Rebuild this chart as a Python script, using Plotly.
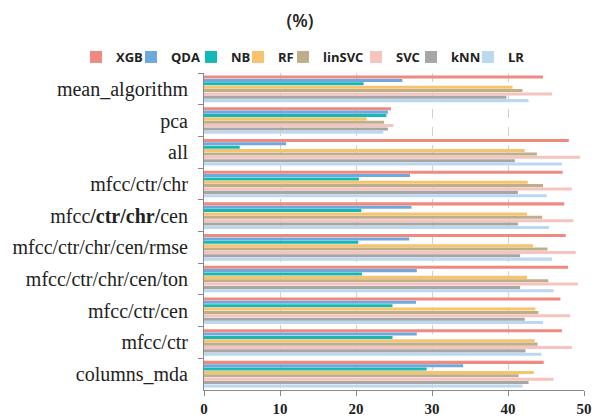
import plotly.graph_objects as go

# Feature sets, listed top to bottom
feature_sets = [
    "mean_algorithm", "pca", "all", "mfcc/ctr/chr", "mfcc<b>/ctr/chr/</b>cen",
    "mfcc/ctr/chr/cen/rmse", "mfcc/ctr/chr/cen/ton", "mfcc/ctr/cen",
    "mfcc/ctr", "columns_mda",
]

models = ["XGB", "QDA", "NB", "RF", "linSVC", "SVC", "kNN", "LR"]

xgb    = [44.6, 24.6, 48.0, 47.2, 47.4, 47.6, 47.9, 46.9, 47.1, 44.7]
qda    = [26.1, 24.2, 10.8, 27.1, 27.3, 27.0, 28.0, 27.9, 28.0, 34.1]
nb     = [21.0, 24.0, 4.7, 20.4, 20.7, 20.3, 20.8, 24.8, 24.8, 29.3]
rf     = [40.6, 21.4, 42.2, 42.6, 42.5, 43.3, 42.5, 43.6, 43.5, 43.4]
linsvc = [41.9, 23.7, 43.8, 44.6, 44.5, 45.2, 45.3, 44.0, 43.9, 41.4]
svc    = [45.8, 24.9, 49.5, 48.4, 48.6, 48.9, 49.2, 48.2, 48.4, 46.0]
knn    = [39.8, 24.2, 40.9, 41.3, 41.3, 41.6, 41.6, 42.2, 42.3, 42.7]
lr     = [42.7, 23.6, 47.1, 45.1, 45.4, 45.8, 46.0, 44.6, 44.4, 41.9]

series = [xgb, qda, nb, rf, linsvc, svc, knn, lr]
colors = ["#EE8A80", "#6FA8DC", "#14B9B6", "#F6C36E",
          "#BFAE8A", "#F5C4BE", "#A6A6A6", "#BBD8EE"]

# plot area in pixels
W, H = 595, 420
ML, MR, MT, MB = 204, 11, 73, 30
PW, PH = W - ML - MR, H - MT - MB

# left edge (px) of each legend entry across the top row
legend_left_px = [76, 131, 191, 238, 283, 356, 411, 468]

fig = go.Figure()
for i, (name, vals, col) in enumerate(zip(models, series, colors)):
    fig.add_trace(go.Bar(
        y=feature_sets, x=vals, name=name, orientation="h",
        marker=dict(color=col, line=dict(width=0)),
        legend="legend" if i == 0 else f"legend{i + 1}",
    ))

legend_style = dict(
    orientation="h", xanchor="left", yanchor="middle",
    y=1 + (MT - 57) / PH,
    font=dict(family="Open Sans", size=13, color="#222222", weight="bold"),
    itemclick=False, itemdoubleclick=False, bgcolor="rgba(0,0,0,0)",
    itemwidth=30,
)
legends = {}
for i, px in enumerate(legend_left_px):
    key = "legend" if i == 0 else f"legend{i + 1}"
    legends[key] = dict(legend_style, x=(px - ML) / PW)

fig.update_layout(
    width=W, height=H,
    margin=dict(l=ML, r=MR, t=MT, b=MB, autoexpand=False),
    paper_bgcolor="white", plot_bgcolor="white",
    barmode="group", bargap=0.15, bargroupgap=0.1,
    title=dict(text="(%)", xref="paper", x=(300 - ML) / PW, xanchor="center",
               yref="container", y=1 - 21 / H, yanchor="middle",
               font=dict(family="Open Sans", size=18, color="#222222", weight=600)),
    showlegend=True,
    **legends,
)

fig.update_xaxes(
    range=[0, 50], tickvals=[0, 10, 20, 30, 40, 50],
    showgrid=True, gridcolor="#D0D0D0", griddash="dash", gridwidth=1,
    showline=True, linecolor="#888888", linewidth=1,
    ticks="outside", ticklen=5, tickcolor="#888888",
    tickfont=dict(family="Liberation Serif", size=15, color="#222222", weight="bold"),
    zeroline=False,
)

fig.update_yaxes(
    autorange="reversed", categoryorder="array", categoryarray=feature_sets,
    showline=True, linecolor="#888888", linewidth=1,
    ticks="outside", ticklen=5, tickcolor="#888888", tickson="boundaries",
    tickfont=dict(family="Liberation Serif", size=20, color="#222222"),
    ticklabelstandoff=11,
    showgrid=False,
)

fig.write_html("out.html")
